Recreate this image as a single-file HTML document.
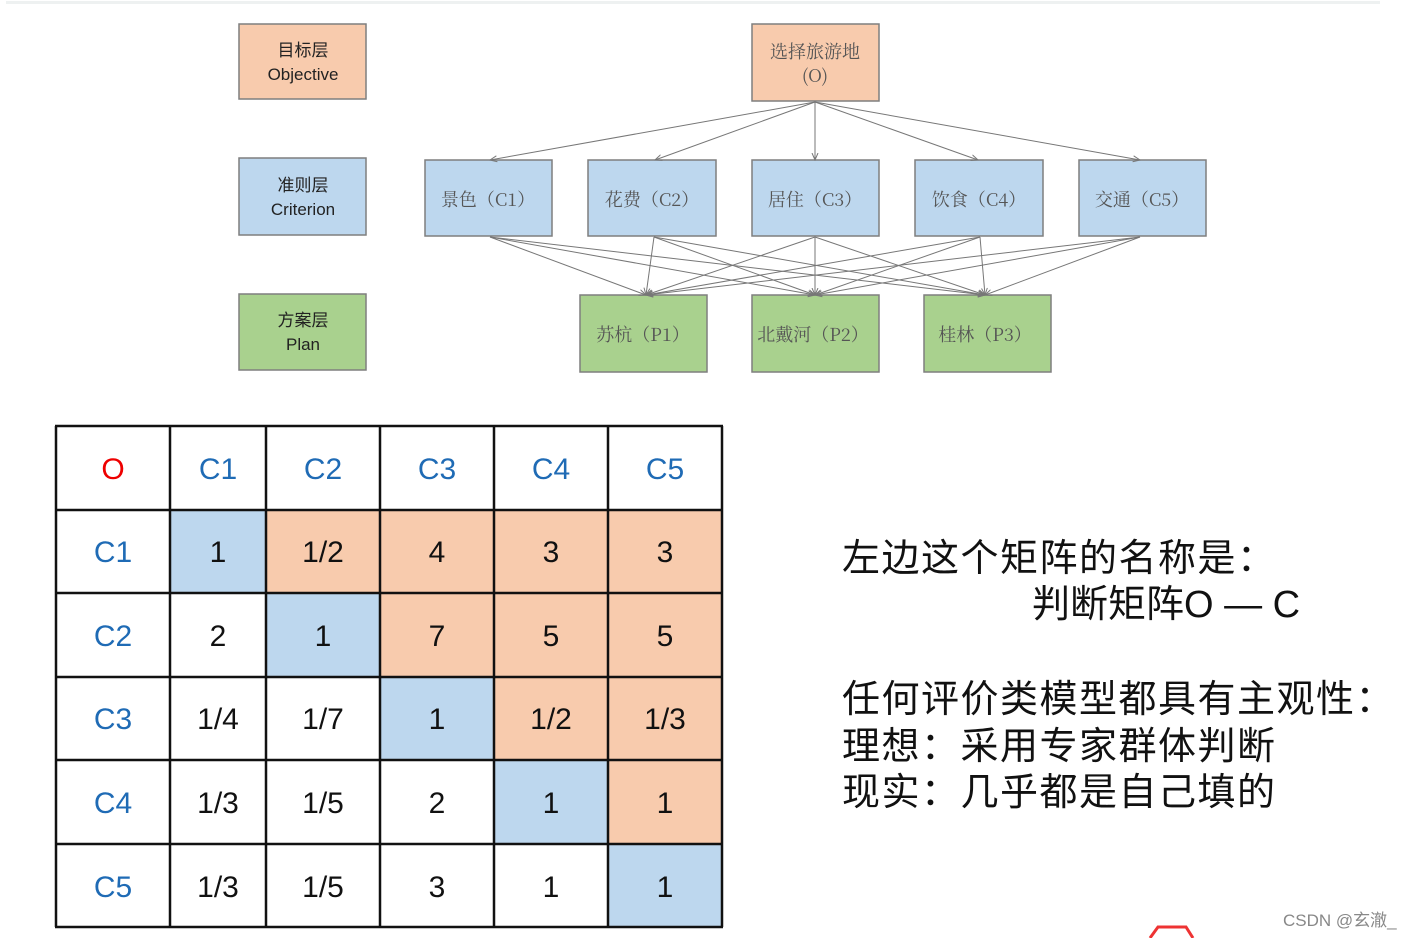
<!DOCTYPE html>
<html><head><meta charset="utf-8"><style>
html,body{margin:0;padding:0;background:#fff;width:1419px;height:938px;overflow:hidden}
</style></head><body>
<svg width="1419" height="938" xmlns="http://www.w3.org/2000/svg" style="position:absolute;left:0;top:0">
<defs><marker id="a" markerWidth="8" markerHeight="8" refX="7" refY="4" orient="auto" markerUnits="userSpaceOnUse"><path d="M0,1 L7,4 L0,7" fill="none" stroke="#777" stroke-width="1"/></marker></defs>
<rect x="6" y="1" width="1374" height="3" fill="#eef1f1"/>
<g stroke="#7f7f7f" stroke-width="1.5">
<rect x="239" y="24" width="127" height="75" fill="#f8cbad"/>
<rect x="239" y="158" width="127" height="77" fill="#bdd7ee"/>
<rect x="239" y="294" width="127" height="76" fill="#a9d18e"/>
<rect x="752" y="24" width="127" height="77" fill="#f8cbad"/>
<rect x="425" y="160" width="127" height="76" fill="#bdd7ee"/>
<rect x="588" y="160" width="128" height="76" fill="#bdd7ee"/>
<rect x="752" y="160" width="127" height="76" fill="#bdd7ee"/>
<rect x="915" y="160" width="128" height="76" fill="#bdd7ee"/>
<rect x="1079" y="160" width="127" height="76" fill="#bdd7ee"/>
<rect x="580" y="295" width="127" height="77" fill="#a9d18e"/>
<rect x="752" y="295" width="127" height="77" fill="#a9d18e"/>
<rect x="924" y="295" width="127" height="77" fill="#a9d18e"/>
</g>
<g stroke="#777" stroke-width="1" marker-end="url(#a)">
<line x1="815" y1="102" x2="490" y2="160"/>
<line x1="815" y1="102" x2="655" y2="160"/>
<line x1="815" y1="102" x2="815" y2="160"/>
<line x1="815" y1="102" x2="978" y2="160"/>
<line x1="815" y1="102" x2="1140" y2="160"/>
<line x1="490" y1="237" x2="646" y2="295"/><line x1="490" y1="237" x2="815" y2="295"/><line x1="490" y1="237" x2="985" y2="295"/>
<line x1="654" y1="237" x2="646" y2="295"/><line x1="654" y1="237" x2="815" y2="295"/><line x1="654" y1="237" x2="985" y2="295"/>
<line x1="815" y1="237" x2="646" y2="295"/><line x1="815" y1="237" x2="815" y2="295"/><line x1="815" y1="237" x2="985" y2="295"/>
<line x1="980" y1="237" x2="646" y2="295"/><line x1="980" y1="237" x2="815" y2="295"/><line x1="980" y1="237" x2="985" y2="295"/>
<line x1="1140" y1="237" x2="646" y2="295"/><line x1="1140" y1="237" x2="815" y2="295"/><line x1="1140" y1="237" x2="985" y2="295"/>
</g>
<g font-family="Liberation Sans, Noto Sans CJK SC, sans-serif" font-size="17" fill="#222" text-anchor="middle">
<text x="303" y="56">目标层</text><text x="303" y="80">Objective</text>
<text x="303" y="191">准则层</text><text x="303" y="215">Criterion</text>
<text x="303" y="326">方案层</text><text x="303" y="350">Plan</text>
</g>
<g font-family="Noto Serif CJK SC, serif" font-size="18" fill="#555" text-anchor="middle">
<text x="815" y="58">选择旅游地</text><text x="815" y="82">(O)</text>
<text x="488" y="206">景色（C1）</text>
<text x="652" y="206">花费（C2）</text>
<text x="815" y="206">居住（C3）</text>
<text x="979" y="206">饮食（C4）</text>
<text x="1142" y="206">交通（C5）</text>
<text x="643" y="341">苏杭（P1）</text>
<text x="813" y="341">北戴河（P2）</text>
<text x="985" y="341">桂林（P3）</text>
</g>
<g>
<rect x="170" y="510" width="96" height="83" fill="#bdd7ee"/>
<rect x="266" y="510" width="456" height="83" fill="#f8cbad"/>
<rect x="266" y="593" width="114" height="84" fill="#bdd7ee"/>
<rect x="380" y="593" width="342" height="84" fill="#f8cbad"/>
<rect x="380" y="677" width="114" height="83" fill="#bdd7ee"/>
<rect x="494" y="677" width="228" height="83" fill="#f8cbad"/>
<rect x="494" y="760" width="114" height="84" fill="#bdd7ee"/>
<rect x="608" y="760" width="114" height="84" fill="#f8cbad"/>
<rect x="608" y="844" width="114" height="83" fill="#bdd7ee"/>
</g>
<g stroke="#111" stroke-width="2.5">
<line x1="56" y1="426" x2="56" y2="927"/><line x1="170" y1="426" x2="170" y2="927"/><line x1="266" y1="426" x2="266" y2="927"/><line x1="380" y1="426" x2="380" y2="927"/><line x1="494" y1="426" x2="494" y2="927"/><line x1="608" y1="426" x2="608" y2="927"/><line x1="722" y1="426" x2="722" y2="927"/>
<line x1="55" y1="426" x2="723" y2="426"/><line x1="55" y1="510" x2="723" y2="510"/><line x1="55" y1="593" x2="723" y2="593"/><line x1="55" y1="677" x2="723" y2="677"/><line x1="55" y1="760" x2="723" y2="760"/><line x1="55" y1="844" x2="723" y2="844"/><line x1="55" y1="927" x2="723" y2="927"/>
</g>
<g font-family="Liberation Sans, sans-serif" font-size="30" text-anchor="middle" fill="#111">
<text x="113" y="479" fill="#e00">O</text>
<g fill="#1f6bb5"><text x="218" y="479">C1</text><text x="323" y="479">C2</text><text x="437" y="479">C3</text><text x="551" y="479">C4</text><text x="665" y="479">C5</text>
<text x="113" y="562">C1</text><text x="113" y="646">C2</text><text x="113" y="729">C3</text><text x="113" y="813">C4</text><text x="113" y="897">C5</text></g>
<text x="218" y="562">1</text><text x="323" y="562">1/2</text><text x="437" y="562">4</text><text x="551" y="562">3</text><text x="665" y="562">3</text>
<text x="218" y="646">2</text><text x="323" y="646">1</text><text x="437" y="646">7</text><text x="551" y="646">5</text><text x="665" y="646">5</text>
<text x="218" y="729">1/4</text><text x="323" y="729">1/7</text><text x="437" y="729">1</text><text x="551" y="729">1/2</text><text x="665" y="729">1/3</text>
<text x="218" y="813">1/3</text><text x="323" y="813">1/5</text><text x="437" y="813">2</text><text x="551" y="813">1</text><text x="665" y="813">1</text>
<text x="218" y="897">1/3</text><text x="323" y="897">1/5</text><text x="437" y="897">3</text><text x="551" y="897">1</text><text x="665" y="897">1</text>
</g>
<g font-family="Liberation Sans, Noto Sans CJK SC, sans-serif" font-size="38" fill="#111" letter-spacing="1.5">
<text x="842" y="571">左边这个矩阵的名称是：</text>
<text x="1032" y="617" letter-spacing="0">判断矩阵O — C</text>
<text x="842" y="712">任何评价类模型都具有主观性：</text>
<text x="842" y="759">理想：采用专家群体判断</text>
<text x="842" y="805">现实：几乎都是自己填的</text>
</g>
<path d="M1150,938 L1158,927 L1186,927 L1193,938" fill="none" stroke="#e33" stroke-width="3"/>
<text x="1283" y="926" font-family="Liberation Sans, Noto Sans CJK SC, sans-serif" font-size="17" fill="#888">CSDN @玄澈_</text>
</svg>
</body></html>
